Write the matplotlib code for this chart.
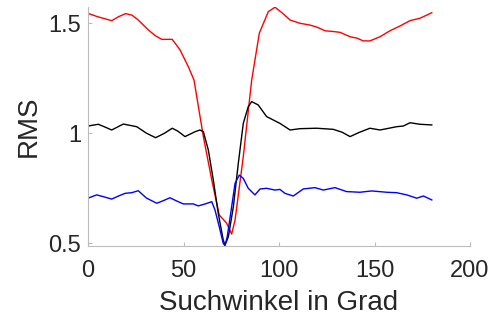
import matplotlib
matplotlib.use("Agg")
import matplotlib.pyplot as plt

# Red series
red_x = [0, 5, 12.4, 16, 19.7, 23, 26.3, 31.6, 35, 38.6, 44.1, 48.2, 52.5, 55.5, 60.4,
         64.8, 68.7, 72.6, 75.2, 77, 81.3, 85.7, 89.7, 94.4, 97.9, 101, 105.8, 111,
         116.2, 120, 124.1, 128, 131.9, 137.2, 141, 144.1, 147.6, 152.9, 158.1, 163.4,
         168.6, 173.8, 180]
red_y = [1.545, 1.530, 1.512, 1.530, 1.544, 1.537, 1.515, 1.470, 1.445, 1.427, 1.427,
         1.379, 1.303, 1.242, 0.985, 0.788, 0.629, 0.591, 0.542, 0.606, 0.894, 1.242,
         1.455, 1.553, 1.573, 1.552, 1.515, 1.500, 1.492, 1.482, 1.466, 1.463, 1.459,
         1.439, 1.432, 1.420, 1.420, 1.439, 1.466, 1.488, 1.512, 1.523, 1.548]

# Black series
black_x = [0, 5.4, 9, 12.4, 18.5, 25.5, 30.7, 35.4, 40, 44.1, 47, 50.8, 56, 58.6, 60.4,
           63, 65.6, 68.2, 70.8, 71.7, 73.5, 76.1, 78.7, 81.3, 83.9, 85.7, 89.1, 93.5,
           100.5, 105.8, 111, 119.7, 128.4, 133, 137.2, 142, 147.6, 152.9, 161.6, 165.1,
           168.6, 173.8, 180]
black_y = [1.033, 1.041, 1.028, 1.015, 1.042, 1.030, 1.000, 0.980, 1.000, 1.023, 1.010,
           0.985, 1.007, 1.015, 1.007, 0.924, 0.788, 0.636, 0.515, 0.492, 0.530, 0.666,
           0.864, 1.045, 1.121, 1.144, 1.129, 1.076, 1.045, 1.015, 1.021, 1.023, 1.018,
           1.005, 0.985, 1.004, 1.023, 1.015, 1.030, 1.033, 1.048, 1.041, 1.038]

# Blue series
blue_x = [0, 4.5, 8, 12.4, 16, 19.4, 22.9, 26.3, 30.7, 36, 39.5, 42.9, 46.5, 49.9, 55.1,
          57.7, 61, 64.8, 66.5, 68.7, 70.8, 71.7, 72.9, 74.7, 77, 79.2, 81.3, 83.9, 87.4,
          90.1, 93.5, 97.9, 100.5, 103.1, 107.5, 112.7, 118.8, 123.2, 129.3, 135.4,
          142.4, 148.5, 156.4, 161.6, 166.9, 172.1, 175.6, 180]
blue_y = [0.705, 0.720, 0.712, 0.701, 0.715, 0.727, 0.730, 0.739, 0.705, 0.682, 0.694,
          0.707, 0.692, 0.679, 0.679, 0.670, 0.678, 0.689, 0.651, 0.576, 0.500, 0.489,
          0.530, 0.636, 0.773, 0.810, 0.795, 0.750, 0.720, 0.747, 0.750, 0.742, 0.745,
          0.727, 0.715, 0.747, 0.753, 0.742, 0.753, 0.735, 0.732, 0.738, 0.732, 0.730,
          0.720, 0.705, 0.715, 0.697]

x_ticks = [0, 50, 100, 150, 200]
y_ticks = [0.5, 1, 1.5]
y_tick_labels = ["0.5", "1", "1.5"]

plt.rcParams['font.family'] = ['Liberation Sans', 'DejaVu Sans']

fig = plt.figure(figsize=(5.01, 3.20), dpi=100)
ax = fig.add_axes([88/501, 1 - 246/320, (470 - 88)/501, (246 - 7.3)/320])

ax.plot(red_x, red_y, color='#ff0000', lw=1.0)
ax.plot(black_x, black_y, color='#000000', lw=1.0)
ax.plot(blue_x, blue_y, color='#0000ff', lw=1.0)

ax.set_xlim(0, 200)
ax.set_ylim(0.4877, 1.5727)
ax.set_xticks(x_ticks)
ax.set_xticklabels([str(t) for t in x_ticks])
ax.set_yticks(y_ticks)
ax.set_yticklabels(y_tick_labels)

for s in ['top', 'right']:
    ax.spines[s].set_visible(False)
for s in ['left', 'bottom']:
    ax.spines[s].set_color('#bcbcbc')
    ax.spines[s].set_linewidth(0.8)

ax.tick_params(axis='both', direction='in', length=3, width=0.8, color='#bcbcbc',
               labelsize=17, labelcolor='#262626')
ax.tick_params(axis='x', pad=10)
ax.tick_params(axis='y', pad=5)

ax.set_xlabel('Suchwinkel in Grad', fontsize=20, color='#262626', labelpad=6)
ax.set_ylabel('RMS', fontsize=20, color='#262626', labelpad=5)

fig.savefig('out.png', dpi=100)
